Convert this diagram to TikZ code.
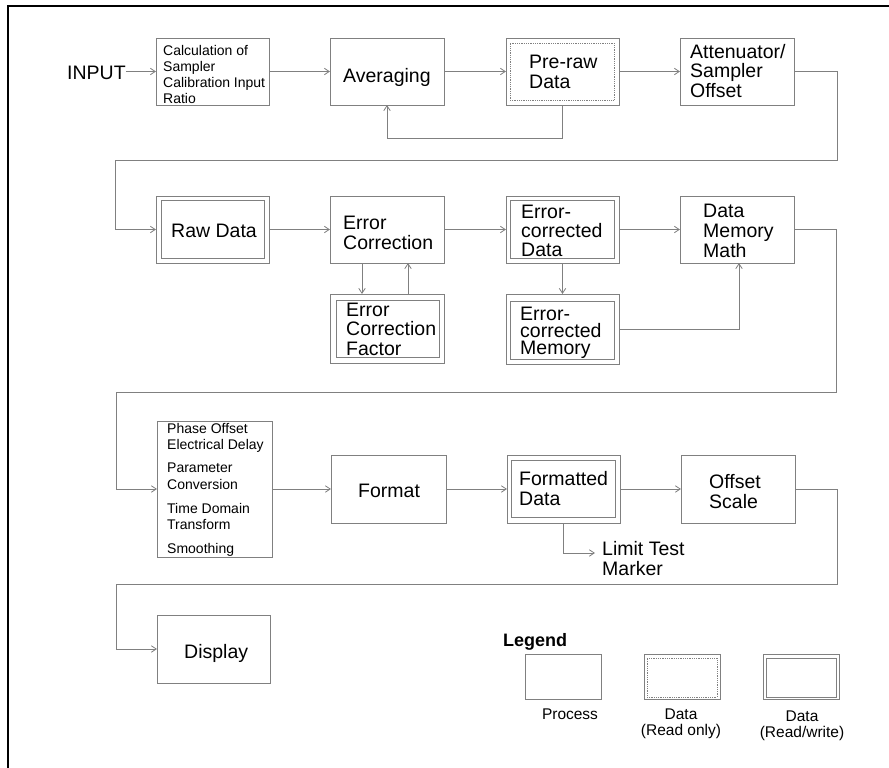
\documentclass[tikz,border=0pt]{standalone}
\usepackage{fontspec}
\setmainfont{Liberation Sans}
\usetikzlibrary{arrows.meta}
\definecolor{lc}{RGB}{128,128,128}
\newcommand\fs[2]{\fontsize{#1}{#2}\selectfont}
\newcommand\bx[6][]{\node[boxst,#1,minimum width={(#5-#3)*1pt},minimum height={(#6-#4)*1pt}] (#2) at ({(#3+#5)/2},{(#4+#6)/2}) {};}
\begin{document}
\begin{tikzpicture}[x=1pt,y=-1pt,
  boxst/.style={draw=lc,line width=0.8pt,inner sep=0pt,outer sep=0pt},
  dotin/.style={draw=lc,line width=0.6pt,dash pattern=on 0.7pt off 1.1pt},
  arr/.style={draw=lc,line width=0.8pt,-{Straight Barb[length=5pt,width=6.5pt,line width=0.8pt]}},
  big/.style={inner sep=0pt,font=\fs{19.5}{20},align=left,anchor=base west},
  small/.style={inner sep=0pt,font=\fs{14}{16},align=left,anchor=base west},
  leg/.style={inner sep=0pt,font=\fs{15.5}{16},align=center,anchor=base},
]
\useasboundingbox (0,0) rectangle (889,768);
\draw[black,line width=2.5pt] (8,768) -- (8,6) -- (889,6);
% row 1
\bx{calc}{156}{38}{269}{105}
\bx{avg}{330}{38}{444}{105}
\bx{pre}{506}{38}{619}{105}
\bx[dotin]{pre-in}{510}{43}{614}{100}
\bx{att}{680}{38}{794}{105}
% row 2
\bx{raw}{156}{196}{269}{263}
\bx{raw-in}{161}{200}{264}{258}
\bx{ec}{330}{196}{444}{263}
\bx{ecd}{506}{196}{619}{263}
\bx{ecd-in}{510}{200}{614}{258}
\bx{dmm}{680}{196}{794}{263}
\bx{ecf}{330}{294}{444}{363}
\bx{ecf-in}{336}{300}{439}{357}
\bx{ecm}{506}{294}{619}{364}
\bx{ecm-in}{510}{301}{614}{359}
% row 3
\bx{phase}{157}{421}{272}{557}
\bx{format}{331}{455}{446}{523}
\bx{fd}{507}{455}{620}{523}
\bx{fd-in}{511}{460}{615}{517}
\bx{os}{681}{455}{795}{523}
% row 4
\bx{disp}{157}{615}{270}{683}
% legend
\bx{lp}{525}{654}{601}{699}
\bx{lro}{644}{654}{720}{699}
\bx[dotin]{lro-in}{647}{658}{717}{697}
\bx{lrw}{763}{654}{839}{699}
\bx{lrw-in}{766}{658}{836}{697}
% texts (anchor base = baseline of last line)
\node[big] (t-input) at (67,80) {INPUT};
\node[small] (t-calc) at (163,103) {Calculation of\\Sampler\\Calibration Input\\Ratio};
\node[big] (t-avg) at (343,82) {Averaging};
\node[big,font=\fs{19.5}{20.5}] (t-pre) at (529,88.5) {Pre-raw\\Data};
\node[big,font=\fs{19.5}{19.5}] (t-att) at (690,97) {Attenuator/\\Sampler\\Offset};
\node[big] (t-raw) at (171,237) {Raw Data};
\node[big] (t-ec) at (343,249) {Error\\Correction};
\node[big,font=\fs{19.5}{19}] (t-ecd) at (521,256) {Error-\\corrected\\Data};
\node[big] (t-dmm) at (703,257) {Data\\Memory\\Math};
\node[big,font=\fs{19.5}{19.5}] (t-ecf) at (346,355) {Error\\Correction\\Factor};
\node[big,font=\fs{19.5}{17}] (t-ecm) at (520,354) {Error-\\corrected\\Memory};
\node[small,font=\fs{14}{16.5}] (t-phase) at (167,553.5) {Phase Offset\\Electrical Delay\\[6.5pt]Parameter\\Conversion\\[7.5pt]Time Domain\\Transform\\[7.5pt]Smoothing};
\node[big] (t-format) at (358,497) {Format};
\node[big] (t-fd) at (519,505) {Formatted\\Data};
\node[big] (t-os) at (709,508) {Offset\\Scale};
\node[big] (t-limit) at (602,575) {Limit Test\\Marker};
\node[big] (t-disp) at (184,658) {Display};
\node[inner sep=0pt,anchor=base west,font=\fs{18}{18}\bfseries] (t-legend) at (503,646) {Legend};
\node[leg] (t-lp) at (570,719) {Process};
\node[leg] (t-lro) at (681,735) {Data\\(Read only)};
\node[leg] (t-lrw) at (802,737) {Data\\(Read/write)};
% connectors
\draw[arr] (t-input.east |- calc.west) -- (calc.west);
\draw[arr] (calc.east) -- (avg.west);
\draw[arr] (avg.east) -- (pre.west);
\draw[arr] (pre.east) -- (att.west);
\draw[arr] (pre.south) -- ++(0,33) -| (avg.south);
\draw[arr] (att.east) -- ++(43,0) |- (115,160) |- (raw.west);
\draw[arr] (raw.east) -- (ec.west);
\draw[arr] (ec.east) -- (ecd.west);
\draw[arr] (ecd.east) -- (dmm.west);
\draw[arr] ([xshift=-25pt]ec.south) -- ([xshift=-25pt]ec.south |- ecf.north);
\draw[arr] ([xshift=21pt]ecf.north) -- ([xshift=21pt]ecf.north |- ec.south);
\draw[arr] (ecd.south) -- (ecm.north);
\draw[arr] (ecm.east) -| ([xshift=2pt]dmm.south);
\draw[arr] (dmm.east) -- ++(42,0) |- (116,392) |- (phase.west);
\draw[arr] (phase.east) -- (format.west);
\draw[arr] (format.east) -- (fd.west);
\draw[arr] (fd.east) -- (os.west);
\coordinate (limarr) at (595,553);
\draw[arr] (fd.south) |- (limarr);
\draw[arr] (os.east) -- ++(42,0) |- (116,584) |- (disp.west);
\end{tikzpicture}
\end{document}
